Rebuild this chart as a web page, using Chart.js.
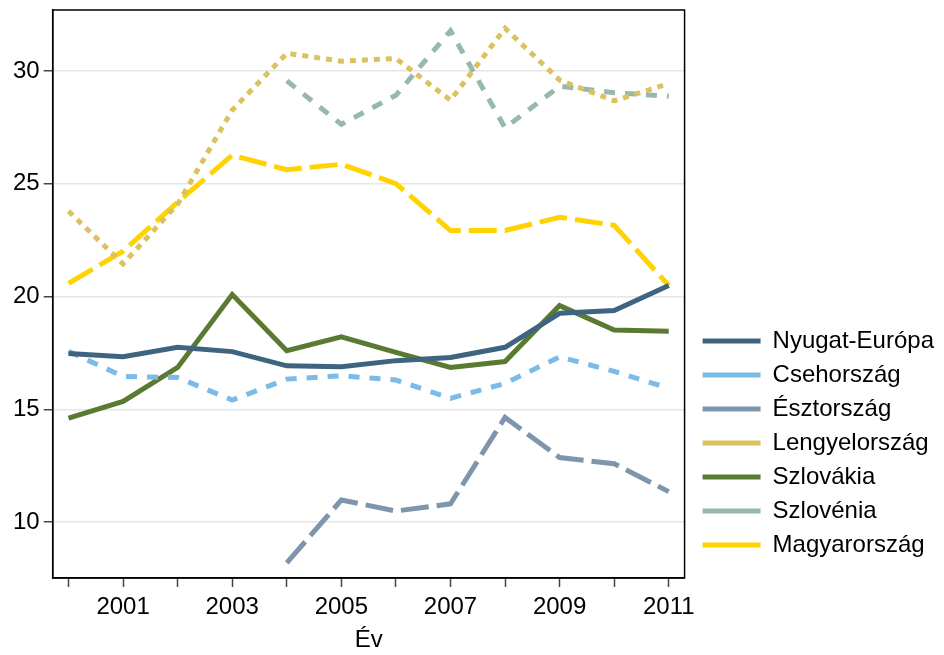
<!DOCTYPE html>
<html>
<head>
<meta charset="utf-8">
<script src="https://cdn.jsdelivr.net/npm/chart.js@4/dist/chart.umd.min.js"></script>
<style>
  html, body { margin: 0; padding: 0; background: #fff; }
  #wrap { width: 944px; height: 655px; position: relative; }
</style>
</head>
<body>
<div id="wrap"><canvas id="c" width="944" height="655"></canvas></div>
<script>
const years = [2000, 2001, 2002, 2003, 2004, 2005, 2006, 2007, 2008, 2009, 2010, 2011];
const yTicks = [10, 15, 20, 25, 30];
const xLabelYears = [2001, 2003, 2005, 2007, 2009, 2011];

const nyugatEuropa = [17.48, 17.33, 17.75, 17.56, 16.93, 16.89, 17.16, 17.30, 17.75, 19.26, 19.38, 20.49];
const csehorszag   = [17.57, 16.46, 16.41, 15.41, 16.34, 16.49, 16.30, 15.49, 16.15, 17.33, 16.68, 15.94];
const esztorszag   = [null, null, null, null, 8.19, 10.98, 10.49, 10.81, 14.64, 12.86, 12.59, 11.35];
const lengyelorszag= [23.79, 21.45, 24.10, 28.27, 30.79, 30.44, 30.56, 28.71, 31.90, 29.60, 28.68, 29.45];
const szlovakia    = [14.61, 15.35, 16.86, 20.09, 17.60, 18.22, 17.53, 16.86, 17.12, 19.60, 18.52, 18.46];
const szlovenia    = [null, null, null, null, 29.57, 27.64, 28.93, 31.79, 27.48, 29.33, 29.04, 28.89];
const magyarorszag = [20.59, 22.01, 24.19, 26.27, 25.63, 25.87, 25.01, 22.93, 22.93, 23.52, 23.16, 20.49];

const seriesNames = ['Nyugat-Európa', 'Csehország', 'Észtország', 'Lengyelország', 'Szlovákia', 'Szlovénia', 'Magyarország'];
const seriesValues = [nyugatEuropa, csehorszag, esztorszag, lengyelorszag, szlovakia, szlovenia, magyarorszag];
const seriesColors = ['#3e6480', '#7cbbe8', '#7f95ac', '#dcc160', '#5a7a31', '#96b8ae', '#ffd200'];
const seriesDash = [[], [11, 10], [28, 8], [6, 6], [], [11, 10], [28, 8]];

const FONT = '"Liberation Sans", Arial, Helvetica, sans-serif';

const datasets = seriesNames.map((name, i) => ({
  label: name,
  data: years.map((yr, j) => ({ x: yr, y: seriesValues[i][j] })),
  borderColor: seriesColors[i],
  backgroundColor: seriesColors[i],
  borderWidth: 5,
  borderDash: seriesDash[i],
  pointRadius: 0,
  pointHoverRadius: 0,
  tension: 0,
  fill: false,
  spanGaps: false
}));

const framePlugin = {
  id: 'frame',
  afterDraw(chart) {
    const { ctx, chartArea: a } = chart;
    ctx.save();
    ctx.strokeStyle = '#000';
    ctx.lineWidth = 1.5;
    ctx.strokeRect(a.left, a.top, a.right - a.left, a.bottom - a.top);
    ctx.restore();
  }
};

new Chart(document.getElementById('c'), {
  type: 'line',
  data: { datasets },
  plugins: [framePlugin],
  options: {
    responsive: false,
    animation: false,
    events: [],
    layout: { padding: { top: 10, left: 9, right: 0, bottom: 0 } },
    plugins: {
      tooltip: { enabled: false },
      legend: {
        position: 'right',
        align: 'start',
        maxWidth: 320,
        title: {
          display: true,
          text: ' ',
          font: { size: 1, lineHeight: 1 },
          padding: { top: 0, bottom: 308 }
        },
        labels: {
          usePointStyle: true,
          pointStyle: 'line',
          pointStyleWidth: 58,
          padding: 10,
          color: '#000',
          font: { family: FONT, size: 24 }
        }
      }
    },
    scales: {
      x: {
        type: 'linear',
        min: 1999.71,
        max: 2011.29,
        afterBuildTicks(scale) { scale.ticks = years.map(v => ({ value: v })); },
        ticks: {
          autoSkip: false,
          maxRotation: 0,
          padding: 6,
          color: '#000',
          font: { family: FONT, size: 24 },
          callback: (v) => xLabelYears.includes(v) ? String(v) : ''
        },
        grid: { drawOnChartArea: false, drawTicks: true, tickLength: 9, tickColor: '#444', tickWidth: 1.5 },
        border: { display: true, color: '#000', width: 1.5 },
        title: {
          display: true,
          text: 'Év',
          color: '#000',
          font: { family: FONT, size: 24 },
          padding: { top: 4, bottom: 0 }
        },
        afterFit(scale) { scale.paddingLeft = 0; scale.paddingRight = 0; scale.height = 77; }
      },
      y: {
        type: 'linear',
        min: 7.52,
        max: 32.71,
        afterBuildTicks(scale) { scale.ticks = yTicks.map(v => ({ value: v })); },
        ticks: {
          padding: 4,
          color: '#000',
          font: { family: FONT, size: 24 },
          callback: (v) => String(v)
        },
        grid: { color: '#e6e6e6', lineWidth: 1.5, drawTicks: true, tickLength: 9, tickColor: '#444', tickWidth: 1.5 },
        border: { display: true, color: '#000', width: 1.5 },
        afterFit(scale) { scale.paddingTop = 0; scale.paddingBottom = 0; }
      },
      yr: {
        type: 'linear',
        position: 'right',
        display: true,
        grid: { display: false, drawTicks: false },
        ticks: { display: false },
        border: { display: false },
        afterFit(scale) { scale.width = 8; scale.paddingTop = 0; scale.paddingBottom = 0; }
      }
    }
  }
});
</script>
</body>
</html>
